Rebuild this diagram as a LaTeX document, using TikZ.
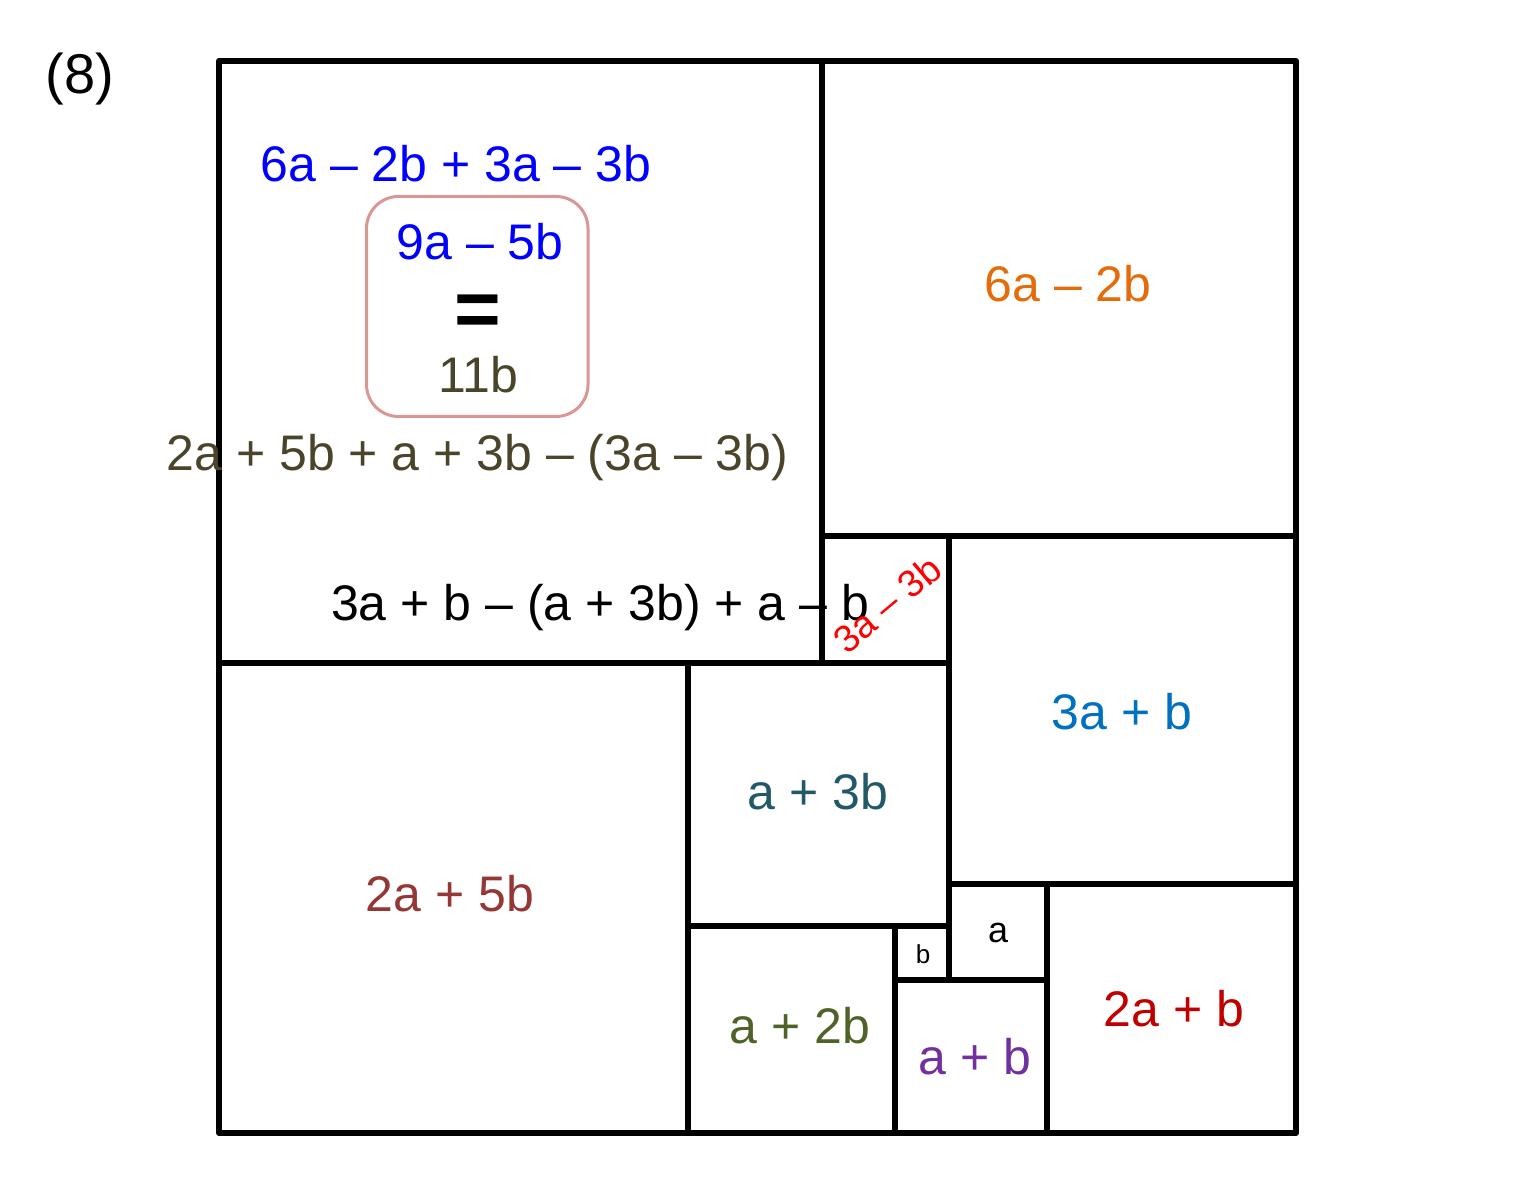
\documentclass[tikz,border=0pt]{standalone}
\usepackage{fontspec}
\setmainfont{Liberation Sans}
\definecolor{cblue}{HTML}{0000FF}
\definecolor{corange}{HTML}{E46C0A}
\definecolor{colive}{HTML}{4A452A}
\definecolor{cbrown}{HTML}{953735}
\definecolor{cteal}{HTML}{215968}
\definecolor{cmid}{HTML}{0070C0}
\definecolor{cgreen}{HTML}{4F6228}
\definecolor{cpurple}{HTML}{7030A0}
\definecolor{cdred}{HTML}{C00000}
\definecolor{cred}{HTML}{FF0000}
\definecolor{cpink}{HTML}{D99694}
\tikzset{
  edge/.style={line width=3pt, line cap=round, line join=round, black},
  lbl/.style={font=\fontsize{25}{30}\selectfont, inner sep=0pt, anchor=base},
  slbl/.style={inner sep=0pt, anchor=base},
}
\begin{document}
\begin{tikzpicture}[x=0.5pt,y=-0.5pt]
\useasboundingbox (0,0) rectangle (1520,1186);
% squares
\draw[edge] (219,61) rectangle (1296,1133);
\draw[edge] (822,61) -- (822,663);
\draw[edge] (822,536) -- (1296,536);
\draw[edge] (219,663) -- (949,663);
\draw[edge] (949,536) -- (949,980);
\draw[edge] (949,884) -- (1296,884);
\draw[edge] (688,663) -- (688,1133);
\draw[edge] (688,926) -- (949,926);
\draw[edge] (895,926) -- (895,1133);
\draw[edge] (895,980) -- (1047,980);
\draw[edge] (1047,884) -- (1047,1133);
% box
\draw[cpink, line width=1.5pt, rounded corners=16pt] (366.5,196.5) rectangle (588,416.5);
% labels
\node[slbl, font=\fontsize{28}{32}\selectfont] (n8) at (80,94) {(8)};
\node[lbl, text=cblue] (sum1) at (456,182) {6a – 2b + 3a – 3b};
\node[lbl, text=cblue] (r1) at (480,260) {9a – 5b};
\node[inner sep=0pt, font=\fontsize{40}{46}\selectfont\bfseries] (eq) at (477.5,316) {=};
\node[lbl, text=colive] (r2) at (478.5,393) {11b};
\node[lbl, text=colive] (sum2) at (477.5,471) {2a + 5b + a + 3b – (3a – 3b)};
\node[lbl] (sum3) at (600,621) {3a + b – (a + 3b) + a – b};
\node[lbl, text=corange] (q1) at (1068,302) {6a – 2b};
\node[inner sep=0pt, text=cred, rotate=40, font=\fontsize{19}{22}\selectfont] (q2) at (887,604) {3a – 3b};
\node[lbl, text=cmid] (q3) at (1122,729) {3a + b};
\node[lbl, text=cteal] (q4) at (818,809) {a + 3b};
\node[lbl, text=cbrown] (q5) at (450,911) {2a + 5b};
\node[lbl, text=cgreen] (q6) at (800,1043) {a + 2b};
\node[slbl, font=\fontsize{13}{15}\selectfont] (q7) at (923,963) {b};
\node[slbl, font=\fontsize{18}{20}\selectfont] (q8) at (998,942) {a};
\node[lbl, text=cpurple] (q9) at (975,1074) {a + b};
\node[lbl, text=cdred] (q10) at (1174,1026) {2a + b};
\end{tikzpicture}
\end{document}
